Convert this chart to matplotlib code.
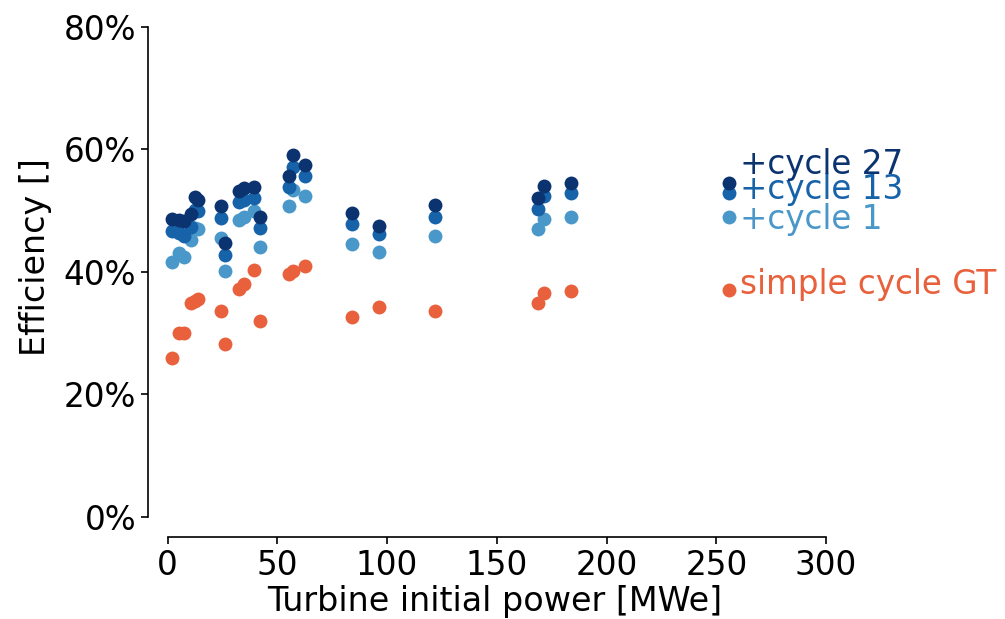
import matplotlib
matplotlib.use("Agg")
import matplotlib.pyplot as plt
from matplotlib.ticker import FuncFormatter

# Turbine initial power [MWe]
power = [2, 5, 7.5, 10.5, 12.5, 14, 24.5, 26, 32.5, 35, 39.5, 42,
         55.5, 57, 62.5, 84, 96.5, 122, 169, 171.5, 184, 256]
# Efficiencies [%]
eff_simple = [25.9, 30.1, 30.1, 34.9, 35.2, 35.6, 33.6, 28.2, 37.3, 38.0, 40.3, 32.0,
              39.6, 40.2, 41.0, 32.6, 34.2, 33.6, 34.9, 36.5, 36.9, 37.0]
eff_cycle1 = [41.7, 43.1, 42.5, 45.2, 47.1, 47.0, 45.6, 40.2, 48.5, 49.0, 50.0, 44.0,
              50.7, 53.4, 52.4, 44.5, 43.3, 45.8, 47.0, 48.7, 49.0, 49.0]
eff_cycle13 = [46.7, 46.3, 45.8, 47.3, 50.2, 49.9, 48.8, 42.8, 51.5, 51.8, 52.0, 47.2,
               53.9, 57.2, 55.7, 47.8, 46.2, 49.0, 50.3, 52.4, 52.9, 52.9]
eff_cycle27 = [48.7, 48.5, 48.3, 49.4, 52.3, 51.7, 50.8, 44.8, 53.3, 53.7, 53.8, 49.0,
               55.7, 59.1, 57.4, 49.7, 47.5, 51.0, 52.1, 54.1, 54.6, 54.5]

series = [
    ("simple cycle GT", eff_simple, "#E8603C", 1.0),
    ("+cycle 1", eff_cycle1, "#4A98C9", -0.4),
    ("+cycle 13", eff_cycle13, "#1763AA", 0.6),
    ("+cycle 27", eff_cycle27, "#0B3370", 3.0),
]

fig = plt.figure(figsize=(10.05, 6.19), dpi=100)
ax = fig.add_axes([0.1473, 0.1325, 0.6746, 0.8239])

for name, vals, color, dy in series:
    ax.scatter(power, vals, s=100, color=color, linewidths=0, zorder=3)
    ax.text(power[-1] + 5, vals[-1] + dy, name, color=color, fontsize=23.5,
            va="center", ha="left", clip_on=False)

ax.set_xlim(-8.9, 300)
ax.set_ylim(-3.27, 80)
ax.set_xticks([0, 50, 100, 150, 200, 250, 300])
ax.set_yticks([0, 20, 40, 60, 80])
ax.yaxis.set_major_formatter(FuncFormatter(lambda v, p: f"{v:.0f}%"))
ax.tick_params(labelsize=23.5, length=5, width=1.2)
for s in ["top", "right"]:
    ax.spines[s].set_visible(False)
ax.spines["left"].set_bounds(0, 80)
ax.spines["bottom"].set_bounds(0, 300)
ax.spines["left"].set_linewidth(1.2)
ax.spines["bottom"].set_linewidth(1.2)
ax.set_xlabel("Turbine initial power [MWe]", fontsize=24)
ax.set_ylabel("Efficiency []", fontsize=24)
ax.xaxis.set_label_coords(0.512, -0.094)
ax.yaxis.set_label_coords(-0.142, 0.549)

fig.savefig("out.png", dpi=100)
